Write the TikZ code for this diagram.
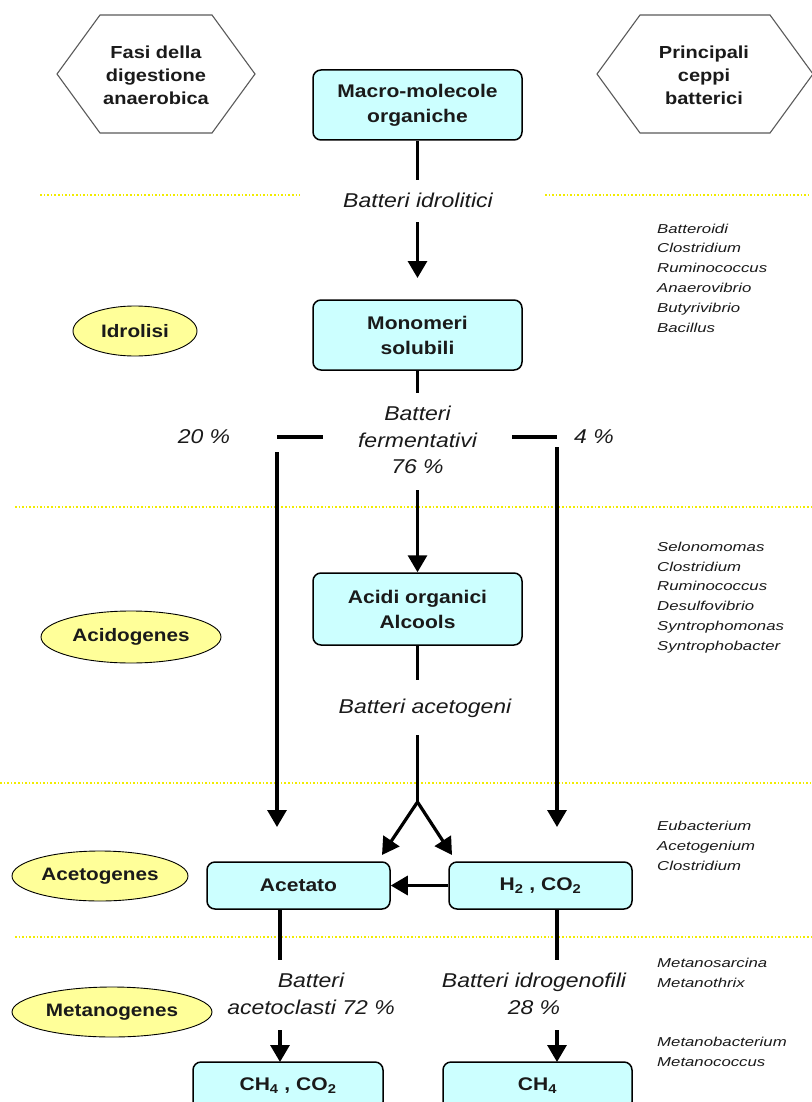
\documentclass[tikz,border=0pt]{standalone}
\usepackage{fontspec}
\setmainfont{Liberation Sans}[FakeStretch=1.15]
\newfontfamily\spfont{Liberation Sans}[FakeStretch=1.3]
\usetikzlibrary{arrows.meta,shapes.geometric}
\definecolor{boxfill}{HTML}{CCFFFF}
\definecolor{ellfill}{HTML}{FFFF99}
\definecolor{sepyel}{HTML}{F2EC00}
\definecolor{hexgray}{HTML}{5A5A5A}
\definecolor{txt}{HTML}{1A1A1A}
\begin{document}
\begin{tikzpicture}[x=1pt,y=-1pt,
  box/.style={draw=black, line width=1.5pt, rounded corners=8pt, fill=boxfill, minimum width=209pt, minimum height=70pt, align=center, font=\fontsize{18.3}{25}\selectfont\bfseries, text=txt, inner sep=0pt},
  smallbox/.style={box, minimum width=183pt, minimum height=47pt},
  phase/.style={ellipse, draw=black, line width=0.9pt, fill=ellfill, font=\fontsize{18}{22}\selectfont\bfseries, text=txt, inner sep=0pt},
  lab/.style={font=\fontsize{20}{26.5}\selectfont\itshape, align=center, text=txt},
  spec/.style={font=\spfont\fontsize{12.9}{19.8}\selectfont\itshape, align=left, anchor=west, text=txt, inner sep=0pt},
  hexlab/.style={font=\fontsize{17.4}{23}\selectfont\bfseries, align=center, text=txt},
  hexline/.style={draw=hexgray, line width=1.1pt},
  flow/.style={line width=3.2pt, black},
  arr/.style={flow, -{Triangle[width=19pt,length=17pt]}},
  sep/.style={sepyel, line width=1.6pt, dotted}
]
\useasboundingbox[fill=white] (0,0) rectangle (811,1102);

% separators
\draw[sep] (40,195) -- (300,195);
\draw[sep] (545,195) -- (811,195);
\draw[sep] (15,507) -- (811,507);
\draw[sep] (0,783) -- (811,783);
\draw[sep] (15,937) -- (811,937);

% hexagons
\draw[hexline] (57,74) -- (100,15) -- (212,15) -- (255,74) -- (212,133) -- (100,133) -- cycle;
\node[hexlab] (hexL) at (156,75) {Fasi della\\digestione\\anaerobica};
\draw[hexline] (597,74) -- (640,15) -- (770,15) -- (813,74) -- (770,133) -- (640,133) -- cycle;
\node[hexlab] (hexR) at (704,75) {Principali\\ceppi\\batterici};

% main boxes
\node[box] (macro) at (417.5,105) {Macro-molecole\\organiche};
\node[box] (mono) at (417.5,335) {Monomeri\\solubili};
\node[box, minimum height=72pt] (acidi) at (417.5,609) {Acidi organici\\Alcools};
\node[smallbox] (acet) at (298.5,885.5) {Acetato};
\node[smallbox] (h2) at (540.5,885.5) {H\textsubscript{2} , CO\textsubscript{2}};
\node[smallbox, minimum width=190pt, minimum height=48pt] (ch4co2) at (288,1086) {CH\textsubscript{4} , CO\textsubscript{2}};
\node[smallbox, minimum width=189pt, minimum height=48pt] (ch4) at (537.5,1086) {CH\textsubscript{4}};

% phase ellipses
\node[phase, minimum width=124pt, minimum height=50pt] (idro) at (135,331) {Idrolisi};
\node[phase, minimum width=180pt, minimum height=52pt] (acido) at (131,637) {Acidogenes};
\node[phase, minimum width=176pt, minimum height=50pt] (aceto) at (100,876) {Acetogenes};
\node[phase, minimum width=200pt, minimum height=50pt] (metano) at (112,1012) {Metanogenes};

% labels
\node[lab] (lidro) at (418,200) {Batteri idrolitici};
\node[lab] (lferm) at (417.5,440) {Batteri\\fermentativi\\76 \%};
\node[lab] (l20) at (204,437) {20 \%};
\node[lab] (l4) at (594,437) {4 \%};
\node[lab] (lacetog) at (425,708) {Batteri acetogeni};
\node[lab] (lacetocl) at (311,994) {Batteri\\acetoclasti 72 \%};
\node[lab] (lidrog) at (534,994) {Batteri idrogenofili\\28 \%};

% species
\node[spec] (sp1) at (657,278) {Batteroidi\\Clostridium\\Ruminococcus\\Anaerovibrio\\Butyrivibrio\\Bacillus};
\node[spec] (sp2) at (657,597.5) {Selonomomas\\Clostridium\\Ruminococcus\\Desulfovibrio\\Syntrophomonas\\Syntrophobacter};
\node[spec] (sp3) at (657,846) {Eubacterium\\Acetogenium\\Clostridium};
\node[spec] (sp4) at (657,973) {Metanosarcina\\Metanothrix};
\node[spec] (sp5) at (657,1052) {Metanobacterium\\Metanococcus};

% coordinates for free ends
\coordinate (c1) at (417.5,180);
\coordinate (c2) at (417.5,222);
\coordinate (c3) at (417.5,278);
\coordinate (c4) at (417.5,393);
\coordinate (c5) at (417.5,490);
\coordinate (dl1) at (277,437);
\coordinate (dl2) at (323,437);
\coordinate (dr1) at (512,437);
\coordinate (dr2) at (557,437);
\coordinate (vl1) at (277,452);
\coordinate (vl2) at (277,827);
\coordinate (vr1) at (557,447);
\coordinate (vr2) at (557,827);
\coordinate (c6) at (417.5,680);
\coordinate (c7) at (417.5,735);
\coordinate (junc) at (417.5,802);
\coordinate (ja) at (382,855);
\coordinate (jb) at (452,855);
\coordinate (a1) at (280,909);
\coordinate (a2) at (280,960);
\coordinate (a3) at (280,1030);
\coordinate (a4) at (280,1062);
\coordinate (b1) at (557,909);
\coordinate (b2) at (557,960);
\coordinate (b3) at (557,1030);
\coordinate (b4) at (557,1062);

% connectors
\draw[flow] (macro.south) -- (c1);
\draw[arr] (c2) -- (c3);
\draw[flow] (mono.south) -- (c4);
\draw[arr] (c5) -- (acidi.north);
\draw[flow] (dl1) -- (dl2);
\draw[flow] (dr1) -- (dr2);
\draw[arr] (vl1) -- (vl2);
\draw[arr] (vr1) -- (vr2);
\draw[flow] (acidi.south) -- (c6);
\draw[flow] (c7) -- (junc);
\draw[arr] (junc) -- (ja);
\draw[arr] (junc) -- (jb);
\draw[arr] (h2.west) -- (acet.east);
\draw[flow] (a1) -- (a2);
\draw[arr] (a3) -- (a4);
\draw[flow] (b1) -- (b2);
\draw[arr] (b3) -- (b4);
\end{tikzpicture}
\end{document}
